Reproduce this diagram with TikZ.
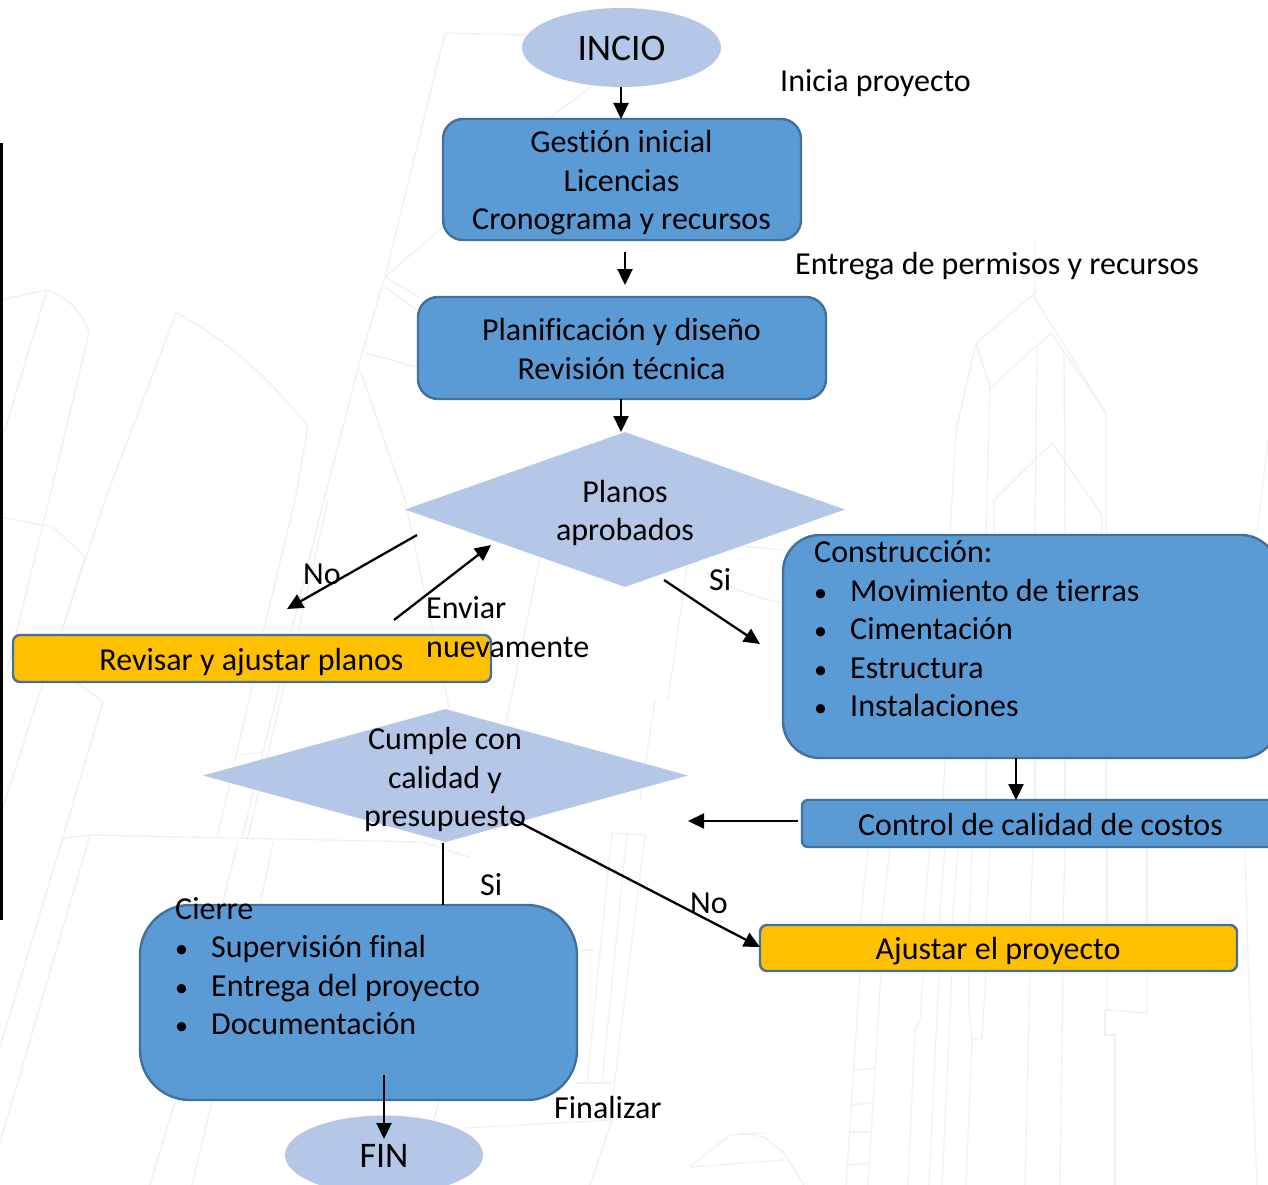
\documentclass[tikz,border=0pt]{standalone}
\usepackage{fontspec}
\setmainfont[Ligatures=CommonOff]{Carlito}
\usetikzlibrary{shapes.geometric,arrows.meta}
\definecolor{boxblue}{HTML}{5B9BD5}
\definecolor{boxedge}{HTML}{41719C}
\definecolor{pale}{HTML}{B4C7E7}
\definecolor{amber}{HTML}{FFC000}
\definecolor{ghost}{HTML}{F0F0F0}
\tikzset{
  txt/.style={font=\fontsize{32}{38.5}\selectfont,text=black,inner sep=0pt,align=center},
  lefttxt/.style={txt,anchor=base west,align=left},
  bul/.style={font=\fontsize{26}{30}\selectfont,text=black,inner sep=0pt,anchor=base west},
  stage/.style={draw=boxedge,line width=2.4pt,fill=boxblue,rounded corners=#1,inner sep=0pt},
  alert/.style={draw=boxedge,line width=2.4pt,fill=amber,rounded corners=7pt,inner sep=0pt},
  term/.style={ellipse,fill=pale,inner sep=0pt},
  choice/.style={diamond,fill=pale,inner sep=0pt,aspect=1},
  flow/.style={draw=black,line width=2.3pt,-{Triangle[length=16pt,width=15pt]}},
  plain/.style={draw=black,line width=2.3pt},
  back/.style={draw=ghost,line width=1.2pt}
}
\begin{document}
\begin{tikzpicture}[x=1pt,y=-1pt]
\useasboundingbox (0,0) rectangle (1268,1185);
\fill[white] (0,0) rectangle (1268,1185);
% faint background drawing
\begin{scope}
\clip (0,0) rectangle (1268,1185);
% central tower
\draw[back] (525,35) -- (445,33) -- (385,277) -- (362,353) -- (324,500) -- (291,633);
\draw[back] (328,500) -- (298,633);
\draw[back] (295,500) -- (263,633);
\draw[back] (591,87) -- (551,117);
\draw[back] (443,227) -- (385,277) -- (419,297);
\draw[back] (385,287) -- (417,310);
\draw[back] (366,353) -- (417,367);
\draw[back] (360,370) -- (405,500) -- (449,707);
\draw[back] (540,557) -- (506,723);
% left buildings
\draw[back] (0,300) -- (47,290) .. controls (75,300) and (85,320) .. (89,333) -- (49,500) -- (8,667);
\draw[back] (47,290) -- (4,433);
\draw[back] (0,517) -- (53,527) -- (85,557) -- (61,633);
\draw[back] (176,313) .. controls (230,340) and (280,390) .. (308,427) -- (295,500);
\draw[back] (176,313) -- (105,500) -- (61,633);
\draw[back] (43,683) -- (3,807);
\draw[back] (78,683) -- (103,702) -- (63,837) -- (0,1047);
\draw[back] (90,835) -- (0,1143);
\draw[back] (63,838) -- (90,835) -- (423,842) -- (469,857);
\draw[back] (253,683) -- (217,838);
\draw[back] (280,683) -- (242,838);
\draw[back] (285,683) -- (247,840);
\draw[back] (240,755) -- (263,752);
\draw[back] (238,842) -- (222,905);
\draw[back] (273,842) -- (260,905);
\draw[back] (175,1101) -- (150,1185);
\draw[back] (212,1101) -- (192,1185);
\draw[back] (439,1100) -- (434,1120);
\draw[back] (464,1128) -- (612,1120) -- (590,1185);
% lower centre
\draw[back] (612,833) -- (587,1083);
\draw[back] (627,833) -- (602,1083);
\draw[back] (645,835) -- (610,1120);
\draw[back] (612,833) -- (645,835);
\draw[back] (582,950) -- (594,950);
\draw[back] (577,1083) -- (612,1083);
\draw[back] (687,567) -- (668,700);
\draw[back] (655,700) -- (640,800);
\draw[back] (705,543) -- (784,550);
\draw[back] (707,573) .. controls (730,590) and (760,598) .. (782,603);
\draw[back] (689,1167) -- (730,1135) -- (765,1133);
\draw[back] (691,1167) -- (783,1160);
\draw[back] (740,1133) -- (764,1137) -- (784,1153) -- (804,1185);
% right towers
\draw[back] (1035,240) -- (1035,293) -- (976,343) -- (956,430) -- (950,533);
\draw[back] (1033,295) -- (1106,413) -- (1106,533);
\draw[back] (976,343) -- (990,388) -- (1051,333) -- (1106,413);
\draw[back] (990,388) -- (986,533);
\draw[back] (1037,347) -- (1035,533);
\draw[back] (1064,353) -- (1065,533);
\draw[back] (1052,443) -- (994,500) -- (994,533);
\draw[back] (1052,443) -- (1102,515) -- (1102,533);
\draw[back] (1268,440) -- (1257,533);
\draw[back] (945,758) -- (943,800);
\draw[back] (986,758) -- (986,800);
\draw[back] (1035,758) -- (1035,800);
\draw[back] (1065,758) -- (1065,800);
\draw[back] (1106,758) -- (1106,800);
\draw[back] (868,848) -- (860,925);
\draw[back] (890,848) -- (881,925);
\draw[back] (930,848) -- (923,925);
\draw[back] (945,848) -- (939,925);
\draw[back] (958,848) -- (952,925);
\draw[back] (972,848) -- (969,925);
\draw[back] (990,848) -- (986,925);
\draw[back] (1033,848) -- (1030,925);
\draw[back] (1065,848) -- (1063,925);
\draw[back] (1107,848) -- (1107,925);
\draw[back] (1147,848) -- (1147,925);
\draw[back] (1245,848) -- (1248,960);
\draw[back] (860,973) -- (846,1185);
\draw[back] (881,973) -- (868,1185);
\draw[back] (923,973) -- (920,1020) -- (915,1030) -- (908,1185);
\draw[back] (939,973) -- (929,1185);
\draw[back] (952,973) -- (942,1185);
\draw[back] (969,973) -- (969,1013) -- (972,1040) -- (966,1185);
\draw[back] (986,973) -- (982,1038) -- (972,1040);
\draw[back] (1030,973) -- (1025,1185);
\draw[back] (1063,973) -- (1060,1185);
\draw[back] (1107,973) -- (1107,1010) -- (1147,1013) -- (1147,973);
\draw[back] (1105,1010) -- (1105,1035) -- (1115,1035) -- (1115,1185);
\draw[back] (1248,960) -- (1257,1185);
\draw[back] (854,1070) -- (875,1068);
\draw[back] (852,1105) -- (871,1103);
\draw[back] (849,1132) -- (869,1132);
\draw[back] (847,1165) -- (868,1163);
\end{scope}
% black bar on the left
\fill[black] (0,143) rectangle (3,920);

\node[term,minimum width=199pt,minimum height=79pt] (inicio) at (621.5,47.5) {};
\node[txt,font=\fontsize{37.5}{42}\selectfont] (inicioT) at (621.5,48) {INCIO};
\node[lefttxt] (iniciaL) at (780,92) {Inicia proyecto};

\node[stage=20pt,minimum width=358pt,minimum height=121pt] (gestion) at (622,179.5) {};
\node[txt] (gestionT) at (621.5,183) {Gestión inicial\\Licencias\\Cronograma y recursos};
\node[lefttxt] (entregaL) at (795,274) {Entrega de permisos y recursos};
\coordinate (midA) at (625,252);
\coordinate (midB) at (625,285);

\node[stage=20pt,minimum width=408pt,minimum height=102pt] (planif) at (622,348) {};
\node[txt] (planifT) at (621.5,349) {Planificación y diseño\\Revisión técnica};

\node[choice,minimum width=440pt,minimum height=155pt] (apr) at (625,509.5) {};
\node[txt] (aprT) at (625,513) {Planos\\aprobados};

\node[alert,minimum width=478pt,minimum height=47pt] (revisar) at (252,658.5) {};
\node[txt] (revisarT) at (251.5,662.5) {Revisar y ajustar planos};
\node[lefttxt] (noA) at (303,584) {No};
\node[lefttxt] (enviarL) at (426,618) {Enviar};
\node[lefttxt] (nuevaL) at (426,657) {nuevamente};
\node[lefttxt] (siA) at (709,590) {Si};

\node[stage=37pt,minimum width=495pt,minimum height=223pt] (constr) at (1030.5,646.5) {};
\node[lefttxt] (constrH) at (814,562) {Construcción:};
\node[bul] (c1b) at (814,601) {•};
\node[lefttxt] (c1) at (850,601) {Movimiento de tierras};
\node[bul] (c2b) at (814,639) {•};
\node[lefttxt] (c2) at (850,639) {Cimentación};
\node[bul] (c3b) at (814,678) {•};
\node[lefttxt] (c3) at (850,678) {Estructura};
\node[bul] (c4b) at (814,716) {•};
\node[lefttxt] (c4) at (850,716) {Instalaciones};

\node[stage=6pt,minimum width=480pt,minimum height=47pt] (control) at (1042,823.5) {};
\node[txt] (controlT) at (1040.5,824) {Control de calidad de costos};

\node[choice,minimum width=485pt,minimum height=133pt] (cumple) at (445.5,775.5) {};
\node[txt] (cumpleT) at (445,779.5) {Cumple con\\calidad y\\presupuesto};

\node[alert,minimum width=477pt,minimum height=46pt] (ajustar) at (998.5,948) {};
\node[txt] (ajustarT) at (998,951) {Ajustar el proyecto};
\node[lefttxt] (noB) at (690,913) {No};
\node[lefttxt] (siB) at (480,895) {Si};

\node[stage=50pt,minimum width=437pt,minimum height=195pt] (cierre) at (358.5,1002.5) {};
\node[lefttxt] (cierreH) at (175,919) {Cierre};
\node[bul] (d1b) at (175,957) {•};
\node[lefttxt] (d1) at (211,957) {Supervisión final};
\node[bul] (d2b) at (175,996) {•};
\node[lefttxt] (d2) at (211,996) {Entrega del proyecto};
\node[bul] (d3b) at (175,1034) {•};
\node[lefttxt] (d3) at (211,1034) {Documentación};
\node[lefttxt] (finL) at (554,1118) {Finalizar};

\node[term,minimum width=198pt,minimum height=79pt] (fin) at (384,1155) {};
\node[txt,font=\fontsize{36}{40}\selectfont] (finT) at (384,1156) {FIN};

% connectors
\coordinate (aprW) at (417,535);
\coordinate (noEnd) at (287,609);
\coordinate (envS) at (394,620);
\coordinate (envE) at (491,545);
\coordinate (siS) at (664,580);
\coordinate (siE) at (760,644);
\coordinate (ctrlS) at (798,821);
\coordinate (cumE) at (688,821);
\coordinate (cumS) at (511,818);
\coordinate (cumTop) at (443,843);
\coordinate (cieTop) at (443,905);
\coordinate (conS) at (1016,758);
\coordinate (conE) at (1016,800);
\coordinate (cieS) at (384,1075);
\coordinate (finE) at (384,1139);
\coordinate (iniS) at (621,87);
\coordinate (gesN) at (621,119);
\coordinate (plaS) at (621,399);
\coordinate (aprN) at (621,432);
\coordinate (ajuW) at (760,947);
\draw[flow] (iniS) -- (gesN);
\draw[flow] (midA) -- (midB);
\draw[flow] (plaS) -- (aprN);
\draw[flow] (aprW) -- (noEnd);
\draw[flow] (envS) -- (envE);
\draw[flow] (siS) -- (siE);
\draw[flow] (conS) -- (conE);
\draw[flow] (ctrlS) -- (cumE);
\draw[flow] (cumS) -- (ajuW);
\draw[plain] (cumTop) -- (cieTop);
\draw[flow] (cieS) -- (finE);
\end{tikzpicture}
\end{document}
